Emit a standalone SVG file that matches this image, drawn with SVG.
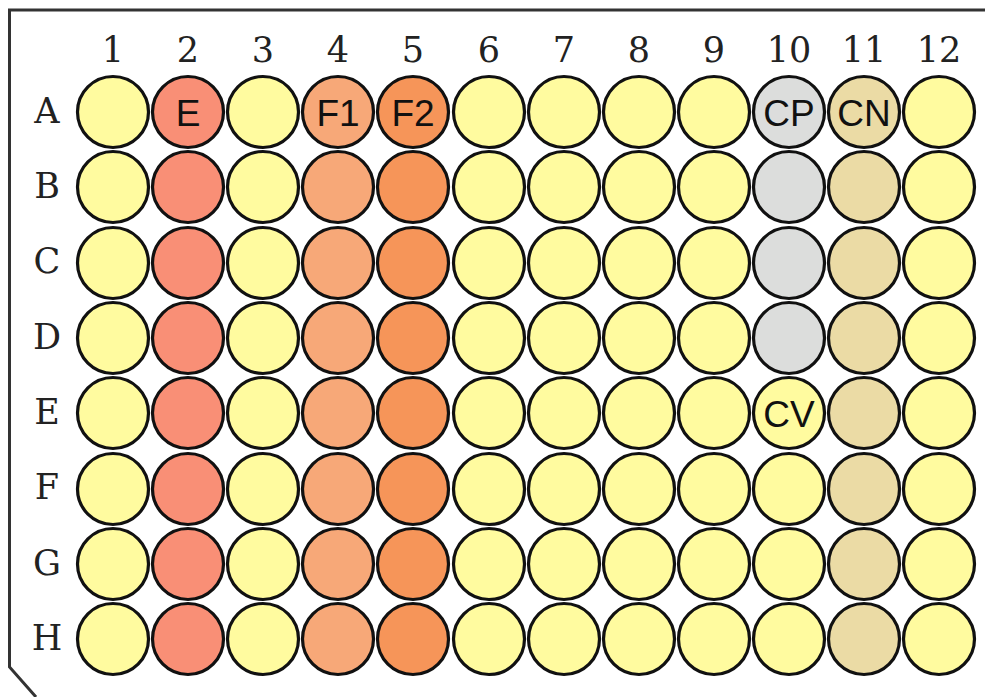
<svg xmlns="http://www.w3.org/2000/svg" width="985" height="697" viewBox="0 0 985 697">
<style>
.w{stroke:#111;stroke-width:3.2}
.y{fill:#FFFB9F}
.s{fill:#F98F76}
.o1{fill:#F7A878}
.o2{fill:#F69559}
.g{fill:#DCDDDC}
.t{fill:#EBDBA5}
.lab{font-family:"DejaVu Serif",serif;font-size:35px;fill:#222;text-anchor:middle}
.wl{font-family:"Liberation Sans",Arial,sans-serif;font-size:37px;fill:#111;text-anchor:middle}
</style>
<rect width="985" height="697" fill="#fff"/>
<g id="plate">
<path d="M985 10 H9.5 V667 L36 697" fill="none" stroke="#333" stroke-width="3"/>
</g>
<g id="col-labels">
<text class="lab" x="113" y="62">1</text>
<text class="lab" x="188" y="62">2</text>
<text class="lab" x="263" y="62">3</text>
<text class="lab" x="338" y="62">4</text>
<text class="lab" x="413" y="62">5</text>
<text class="lab" x="489" y="62">6</text>
<text class="lab" x="564" y="62">7</text>
<text class="lab" x="639" y="62">8</text>
<text class="lab" x="714" y="62">9</text>
<text class="lab" x="789" y="62">10</text>
<text class="lab" x="864" y="62">11</text>
<text class="lab" x="939" y="62">12</text>
</g>
<g id="row-labels">
<text class="lab" x="47" y="123">A</text>
<text class="lab" x="47" y="198">B</text>
<text class="lab" x="47" y="273">C</text>
<text class="lab" x="47" y="349">D</text>
<text class="lab" x="47" y="424">E</text>
<text class="lab" x="47" y="499">F</text>
<text class="lab" x="47" y="575">G</text>
<text class="lab" x="47" y="650">H</text>
</g>
<defs>
<circle id="c" r="35.5"/>
</defs>
<g id="wells">
<g id="row-A">
<use href="#c" x="113" y="112" class="w y"/>
<use href="#c" x="188" y="112" class="w s"/>
<use href="#c" x="263" y="112" class="w y"/>
<use href="#c" x="338" y="112" class="w o1"/>
<use href="#c" x="413" y="112" class="w o2"/>
<use href="#c" x="489" y="112" class="w y"/>
<use href="#c" x="564" y="112" class="w y"/>
<use href="#c" x="639" y="112" class="w y"/>
<use href="#c" x="714" y="112" class="w y"/>
<use href="#c" x="789" y="112" class="w g"/>
<use href="#c" x="864" y="112" class="w t"/>
<use href="#c" x="939" y="112" class="w y"/>
</g>
<g id="row-B">
<use href="#c" x="113" y="187" class="w y"/>
<use href="#c" x="188" y="187" class="w s"/>
<use href="#c" x="263" y="187" class="w y"/>
<use href="#c" x="338" y="187" class="w o1"/>
<use href="#c" x="413" y="187" class="w o2"/>
<use href="#c" x="489" y="187" class="w y"/>
<use href="#c" x="564" y="187" class="w y"/>
<use href="#c" x="639" y="187" class="w y"/>
<use href="#c" x="714" y="187" class="w y"/>
<use href="#c" x="789" y="187" class="w g"/>
<use href="#c" x="864" y="187" class="w t"/>
<use href="#c" x="939" y="187" class="w y"/>
</g>
<g id="row-C">
<use href="#c" x="113" y="263" class="w y"/>
<use href="#c" x="188" y="263" class="w s"/>
<use href="#c" x="263" y="263" class="w y"/>
<use href="#c" x="338" y="263" class="w o1"/>
<use href="#c" x="413" y="263" class="w o2"/>
<use href="#c" x="489" y="263" class="w y"/>
<use href="#c" x="564" y="263" class="w y"/>
<use href="#c" x="639" y="263" class="w y"/>
<use href="#c" x="714" y="263" class="w y"/>
<use href="#c" x="789" y="263" class="w g"/>
<use href="#c" x="864" y="263" class="w t"/>
<use href="#c" x="939" y="263" class="w y"/>
</g>
<g id="row-D">
<use href="#c" x="113" y="338" class="w y"/>
<use href="#c" x="188" y="338" class="w s"/>
<use href="#c" x="263" y="338" class="w y"/>
<use href="#c" x="338" y="338" class="w o1"/>
<use href="#c" x="413" y="338" class="w o2"/>
<use href="#c" x="489" y="338" class="w y"/>
<use href="#c" x="564" y="338" class="w y"/>
<use href="#c" x="639" y="338" class="w y"/>
<use href="#c" x="714" y="338" class="w y"/>
<use href="#c" x="789" y="338" class="w g"/>
<use href="#c" x="864" y="338" class="w t"/>
<use href="#c" x="939" y="338" class="w y"/>
</g>
<g id="row-E">
<use href="#c" x="113" y="413" class="w y"/>
<use href="#c" x="188" y="413" class="w s"/>
<use href="#c" x="263" y="413" class="w y"/>
<use href="#c" x="338" y="413" class="w o1"/>
<use href="#c" x="413" y="413" class="w o2"/>
<use href="#c" x="489" y="413" class="w y"/>
<use href="#c" x="564" y="413" class="w y"/>
<use href="#c" x="639" y="413" class="w y"/>
<use href="#c" x="714" y="413" class="w y"/>
<use href="#c" x="789" y="413" class="w y"/>
<use href="#c" x="864" y="413" class="w t"/>
<use href="#c" x="939" y="413" class="w y"/>
</g>
<g id="row-F">
<use href="#c" x="113" y="489" class="w y"/>
<use href="#c" x="188" y="489" class="w s"/>
<use href="#c" x="263" y="489" class="w y"/>
<use href="#c" x="338" y="489" class="w o1"/>
<use href="#c" x="413" y="489" class="w o2"/>
<use href="#c" x="489" y="489" class="w y"/>
<use href="#c" x="564" y="489" class="w y"/>
<use href="#c" x="639" y="489" class="w y"/>
<use href="#c" x="714" y="489" class="w y"/>
<use href="#c" x="789" y="489" class="w y"/>
<use href="#c" x="864" y="489" class="w t"/>
<use href="#c" x="939" y="489" class="w y"/>
</g>
<g id="row-G">
<use href="#c" x="113" y="564" class="w y"/>
<use href="#c" x="188" y="564" class="w s"/>
<use href="#c" x="263" y="564" class="w y"/>
<use href="#c" x="338" y="564" class="w o1"/>
<use href="#c" x="413" y="564" class="w o2"/>
<use href="#c" x="489" y="564" class="w y"/>
<use href="#c" x="564" y="564" class="w y"/>
<use href="#c" x="639" y="564" class="w y"/>
<use href="#c" x="714" y="564" class="w y"/>
<use href="#c" x="789" y="564" class="w y"/>
<use href="#c" x="864" y="564" class="w t"/>
<use href="#c" x="939" y="564" class="w y"/>
</g>
<g id="row-H">
<use href="#c" x="113" y="639" class="w y"/>
<use href="#c" x="188" y="639" class="w s"/>
<use href="#c" x="263" y="639" class="w y"/>
<use href="#c" x="338" y="639" class="w o1"/>
<use href="#c" x="413" y="639" class="w o2"/>
<use href="#c" x="489" y="639" class="w y"/>
<use href="#c" x="564" y="639" class="w y"/>
<use href="#c" x="639" y="639" class="w y"/>
<use href="#c" x="714" y="639" class="w y"/>
<use href="#c" x="789" y="639" class="w y"/>
<use href="#c" x="864" y="639" class="w t"/>
<use href="#c" x="939" y="639" class="w y"/>
</g>
</g>
<g id="well-labels">
<text class="wl" x="188" y="126">E</text>
<text class="wl" x="338" y="126">F1</text>
<text class="wl" x="413" y="126">F2</text>
<text class="wl" x="789" y="126">CP</text>
<text class="wl" x="864" y="126">CN</text>
<text class="wl" x="789" y="427">CV</text>
</g>
</svg>
